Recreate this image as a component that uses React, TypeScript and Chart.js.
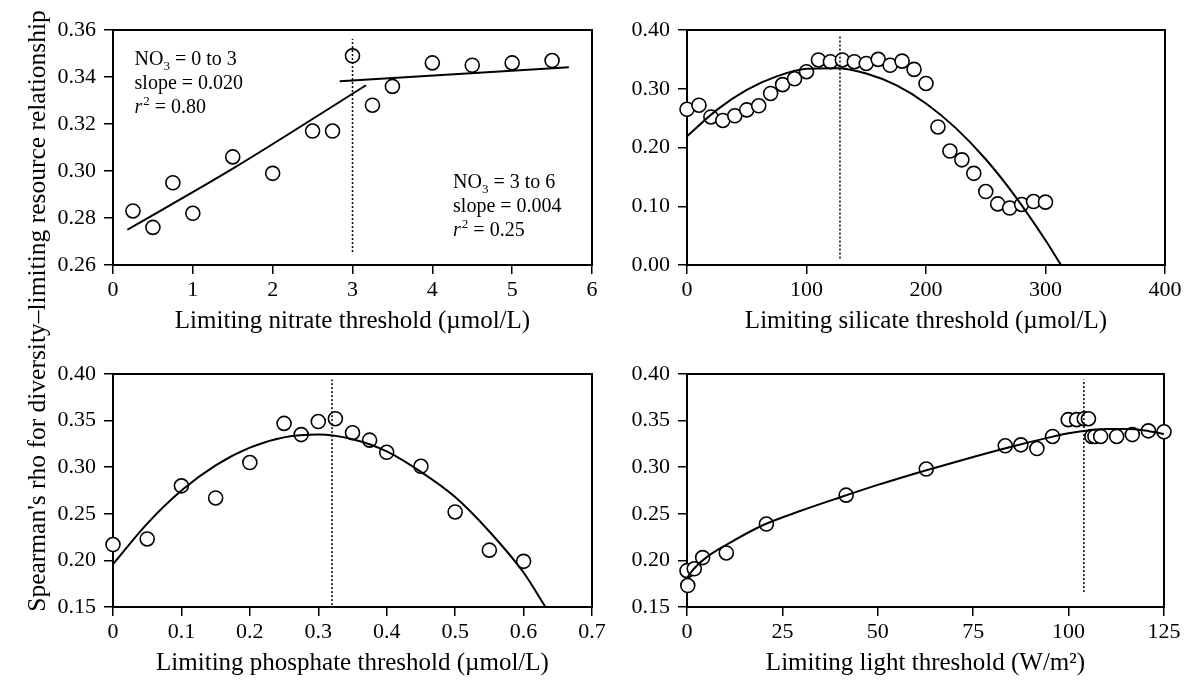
import React, { useEffect, useRef } from 'react';
import { Chart, registerables } from 'chart.js';

Chart.register(...registerables);

const FONT = "'Liberation Serif', 'Times New Roman', Times, serif";

// ---------- Panel 1: nitrate ----------
const nitrateX = [0.25, 0.5, 0.75, 1, 1.5, 2, 2.5, 2.75, 3, 3.25, 3.5, 4, 4.5, 5, 5.5];
const nitrateRho = [0.283, 0.276, 0.295, 0.282, 0.306, 0.299, 0.317, 0.317, 0.349, 0.328, 0.336, 0.346, 0.345, 0.346, 0.347];
const nitrateFitLowX = [0.18, 1.5, 3.17];
const nitrateFitLowY = [0.275, 0.301, 0.3365];
const nitrateFitHighX = [2.84, 5.71];
const nitrateFitHighY = [0.3382, 0.3442];
const nitrateBreakX = [3, 3];
const nitrateBreakY = [0.2655, 0.3562];
const nitrateXTicks = [0, 1, 2, 3, 4, 5, 6];
const nitrateYTicks = [0.26, 0.28, 0.3, 0.32, 0.34, 0.36];

// ---------- Panel 2: silicate ----------
const silicateX = [0, 10, 20, 30, 40, 50, 60, 70, 80, 90, 100, 110, 120, 130, 140, 150, 160, 170, 180, 190, 200, 210, 220, 230, 240, 250, 260, 270, 280, 290, 300];
const silicateRho = [0.265, 0.272, 0.252, 0.246, 0.254, 0.264, 0.271, 0.292, 0.307, 0.317, 0.329, 0.349, 0.346, 0.349, 0.346, 0.343, 0.35, 0.34, 0.347, 0.333, 0.309, 0.235, 0.194, 0.179, 0.156, 0.125, 0.104, 0.097, 0.103, 0.108, 0.107];
const silicateFitX = [0, 25, 50, 75, 100, 125, 150, 175, 200, 225, 250, 275, 300, 313];
const silicateFitY = [0.219, 0.264, 0.298, 0.321, 0.334, 0.335, 0.326, 0.306, 0.275, 0.233, 0.18, 0.116, 0.042, 0.0];
const silicateBreakX = [128, 128];
const silicateBreakY = [0.011, 0.389];
const silicateXTicks = [0, 100, 200, 300, 400];
const silicateYTicks = [0.0, 0.1, 0.2, 0.3, 0.4];

// ---------- Panel 3: phosphate ----------
const phosphateX = [0, 0.05, 0.1, 0.15, 0.2, 0.25, 0.275, 0.3, 0.325, 0.35, 0.375, 0.4, 0.45, 0.5, 0.55, 0.6];
const phosphateRho = [0.217, 0.223, 0.28, 0.267, 0.305, 0.347, 0.335, 0.349, 0.352, 0.337, 0.329, 0.316, 0.301, 0.252, 0.211, 0.199];
const phosphateFitX = [0, 0.05, 0.1, 0.15, 0.2, 0.25, 0.3, 0.35, 0.4, 0.45, 0.5, 0.55, 0.6, 0.632];
const phosphateFitY = [0.196, 0.2395, 0.275, 0.302, 0.321, 0.332, 0.335, 0.33, 0.317, 0.295, 0.268, 0.231, 0.187, 0.15];
const phosphateBreakX = [0.32, 0.32];
const phosphateBreakY = [0.152, 0.394];
const phosphateXTicks = [0, 0.1, 0.2, 0.3, 0.4, 0.5, 0.6, 0.7];
const phosphateYTicks = [0.15, 0.2, 0.25, 0.3, 0.35, 0.4];

// ---------- Panel 4: light ----------
const lightX = [0, 0.2, 1.9, 4.1, 10.3, 20.8, 41.7, 62.7, 83.4, 87.5, 91.7, 95.8, 99.9, 102.1, 104.1, 105.2, 106.1, 106.9, 108.4, 112.6, 116.7, 120.9, 125];
const lightRho = [0.189, 0.173, 0.191, 0.203, 0.208, 0.239, 0.27, 0.298, 0.323, 0.324, 0.32, 0.333, 0.351, 0.351, 0.352, 0.352, 0.333, 0.333, 0.333, 0.333, 0.335, 0.339, 0.338];
const lightFitX = [0, 1, 2.5, 5, 10, 20, 30, 40, 50, 62.5, 75, 85, 95, 100, 105, 110, 115, 120, 125];
const lightFitY = [0.181, 0.187, 0.194, 0.203, 0.216, 0.238, 0.2535, 0.2675, 0.281, 0.2965, 0.311, 0.322, 0.332, 0.3365, 0.3395, 0.341, 0.341, 0.3395, 0.3355];
const lightBreakX = [104, 104];
const lightBreakY = [0.166, 0.394];
const lightXTicks = [0, 25, 50, 75, 100, 125];
const lightYTicks = [0.15, 0.2, 0.25, 0.3, 0.35, 0.4];

const yAxisTitle = "Spearman's rho for diversity\u2013limiting resource relationship";

type Seg = { t: string; s?: 'i' | 'sub' | 'sup' };
type Note = { x: number; y: number; lines: Seg[][] };

const AXIS_W = 70;
const AXIS_H = 75;
const PAD_TOP = 30;

const pts = (xs: number[], ys: number[]) => xs.map((x, i) => ({ x, y: ys[i] }));

interface PanelCfg {
  area: { left: number; top: number; right: number; bottom: number };
  padRight: number;
  points: { x: number; y: number }[];
  fits: { x: number; y: number }[][];
  breakLine: { x: number; y: number }[];
  xTicks: number[];
  yTicks: number[];
  xFmt: (v: number) => string;
  yFmt: (v: number) => string;
  xTitle: string;
  notes: Note[];
}

const panels: PanelCfg[] = [
  {
    area: { left: 113, top: 30, right: 592, bottom: 265 },
    padRight: 30,
    points: pts(nitrateX, nitrateRho),
    fits: [pts(nitrateFitLowX, nitrateFitLowY), pts(nitrateFitHighX, nitrateFitHighY)],
    breakLine: pts(nitrateBreakX, nitrateBreakY),
    xTicks: nitrateXTicks,
    yTicks: nitrateYTicks,
    xFmt: (v) => String(v),
    yFmt: (v) => v.toFixed(2),
    xTitle: 'Limiting nitrate threshold (\u00b5mol/L)',
    notes: [
      {
        x: 0.27,
        y: 0.3451,
        lines: [
          [{ t: 'NO' }, { t: '3', s: 'sub' }, { t: ' = 0 to 3' }],
          [{ t: 'slope = 0.020' }],
          [{ t: 'r', s: 'i' }, { t: '2', s: 'sup' }, { t: ' = 0.80' }],
        ],
      },
      {
        x: 4.26,
        y: 0.2928,
        lines: [
          [{ t: 'NO' }, { t: '3', s: 'sub' }, { t: ' = 3 to 6' }],
          [{ t: 'slope = 0.004' }],
          [{ t: 'r', s: 'i' }, { t: '2', s: 'sup' }, { t: ' = 0.25' }],
        ],
      },
    ],
  },
  {
    area: { left: 687, top: 30, right: 1165, bottom: 265 },
    padRight: 20,
    points: pts(silicateX, silicateRho),
    fits: [pts(silicateFitX, silicateFitY)],
    breakLine: pts(silicateBreakX, silicateBreakY),
    xTicks: silicateXTicks,
    yTicks: silicateYTicks,
    xFmt: (v) => String(v),
    yFmt: (v) => v.toFixed(2),
    xTitle: 'Limiting silicate threshold (\u00b5mol/L)',
    notes: [],
  },
  {
    area: { left: 113, top: 374, right: 592, bottom: 607 },
    padRight: 30,
    points: pts(phosphateX, phosphateRho),
    fits: [pts(phosphateFitX, phosphateFitY)],
    breakLine: pts(phosphateBreakX, phosphateBreakY),
    xTicks: phosphateXTicks,
    yTicks: phosphateYTicks,
    xFmt: (v) => (v === 0 ? '0' : v.toFixed(1)),
    yFmt: (v) => v.toFixed(2),
    xTitle: 'Limiting phosphate threshold (\u00b5mol/L)',
    notes: [],
  },
  {
    area: { left: 687, top: 374, right: 1164, bottom: 607 },
    padRight: 21,
    points: pts(lightX, lightRho),
    fits: [pts(lightFitX, lightFitY)],
    breakLine: pts(lightBreakX, lightBreakY),
    xTicks: lightXTicks,
    yTicks: lightYTicks,
    xFmt: (v) => String(v),
    yFmt: (v) => v.toFixed(2),
    xTitle: 'Limiting light threshold (W/m\u00b2)',
    notes: [],
  },
];

const framePlugin = {
  id: 'frame',
  beforeDatasetsDraw(chart: any) {
    const { ctx, chartArea: a } = chart;
    ctx.save();
    ctx.strokeStyle = '#000';
    ctx.lineWidth = 2;
    ctx.strokeRect(a.left, a.top, a.right - a.left, a.bottom - a.top);
    ctx.restore();
  },
};

function notesPlugin(notes: Note[]) {
  return {
    id: 'notes',
    afterDatasetsDraw(chart: any) {
      const ctx = chart.ctx;
      const xs = chart.scales.x;
      const ys = chart.scales.y;
      ctx.save();
      ctx.fillStyle = '#000';
      ctx.textBaseline = 'alphabetic';
      ctx.textAlign = 'left';
      for (const n of notes) {
        const x0 = xs.getPixelForValue(n.x);
        let y = ys.getPixelForValue(n.y);
        for (const line of n.lines) {
          let x = x0;
          for (const seg of line) {
            let size = 20;
            let dy = 0;
            let style = '';
            if (seg.s === 'sub') { size = 13; dy = 5; }
            if (seg.s === 'sup') { size = 13; dy = -8; }
            if (seg.s === 'i') style = 'italic ';
            ctx.font = `${style}${size}px ${FONT}`;
            ctx.fillText(seg.t, x, y + dy);
            x += ctx.measureText(seg.t).width + (seg.s === 'i' ? 1 : 0);
          }
          y += 24;
        }
      }
      ctx.restore();
    },
  };
}

function buildConfig(p: PanelCfg): any {
  const lineDs = p.fits.map((f) => ({
    data: f,
    showLine: true,
    borderColor: '#000',
    borderWidth: 2,
    pointRadius: 0,
    cubicInterpolationMode: 'monotone',
    order: 0,
    clip: false,
  }));
  return {
    type: 'scatter',
    data: {
      datasets: [
        ...lineDs,
        {
          data: p.breakLine,
          showLine: true,
          borderColor: '#000',
          borderWidth: 1.5,
          borderDash: [2, 2],
          pointRadius: 0,
          order: 0,
        },
        {
          data: p.points,
          showLine: false,
          pointRadius: 7,
          pointBorderWidth: 1.6,
          pointBorderColor: '#000',
          pointBackgroundColor: '#fff',
          order: 1,
          clip: false,
        },
      ],
    },
    options: {
      animation: false,
      responsive: false,
      devicePixelRatio: 1,
      layout: { padding: { top: PAD_TOP, right: p.padRight, left: 0, bottom: 0 } },
      plugins: { legend: { display: false }, tooltip: { enabled: false } },
      scales: {
        x: {
          type: 'linear',
          min: p.xTicks[0],
          max: p.xTicks[p.xTicks.length - 1],
          afterBuildTicks: (s: any) => { s.ticks = p.xTicks.map((v) => ({ value: v })); },
          afterFit: (s: any) => { s.height = AXIS_H; },
          ticks: {
            callback: (v: any) => p.xFmt(Number(v)),
            font: { family: FONT, size: 22 },
            color: '#000',
            padding: 3,
            maxRotation: 0,
            autoSkip: false,
          },
          grid: { display: true, drawOnChartArea: false, drawTicks: true, tickLength: 9, color: '#000', lineWidth: 1.5 },
          border: { display: true, color: '#000', width: 2 },
          title: { display: true, text: p.xTitle, color: '#000', font: { family: FONT, size: 25 }, padding: { top: 0, bottom: 4 } },
        },
        y: {
          type: 'linear',
          min: p.yTicks[0],
          max: p.yTicks[p.yTicks.length - 1],
          afterBuildTicks: (s: any) => { s.ticks = p.yTicks.map((v) => ({ value: v })); },
          afterFit: (s: any) => { s.width = AXIS_W; },
          ticks: {
            callback: (v: any) => p.yFmt(Number(v)),
            font: { family: FONT, size: 22 },
            color: '#000',
            padding: 8,
            autoSkip: false,
          },
          grid: { display: true, drawOnChartArea: false, drawTicks: true, tickLength: 9, color: '#000', lineWidth: 1.5 },
          border: { display: true, color: '#000', width: 2 },
        },
      },
    },
    plugins: [framePlugin, notesPlugin(p.notes)],
  };
}

function Panel({ cfg }: { cfg: PanelCfg }) {
  const ref = useRef<HTMLCanvasElement | null>(null);
  useEffect(() => {
    if (!ref.current) return;
    const chart = new Chart(ref.current, buildConfig(cfg));
    return () => chart.destroy();
  }, [cfg]);
  const L = cfg.area.left - AXIS_W;
  const T = cfg.area.top - PAD_TOP;
  const W = cfg.area.right - cfg.area.left + AXIS_W + cfg.padRight;
  const H = cfg.area.bottom - cfg.area.top + PAD_TOP + AXIS_H;
  return (
    <canvas
      ref={ref}
      width={W}
      height={H}
      style={{ position: 'absolute', left: L, top: T, width: W, height: H, display: 'block' }}
    />
  );
}

export default function App() {
  return (
    <div style={{ position: 'absolute', left: 0, top: 0, width: 1185, height: 688, background: '#fff', overflow: 'hidden' }}>
      {panels.map((p, i) => (
        <Panel key={i} cfg={p} />
      ))}
      <div
        style={{
          position: 'absolute',
          left: 37 - 330,
          top: 311 - 16,
          width: 660,
          height: 32,
          lineHeight: '32px',
          textAlign: 'center',
          fontFamily: FONT,
          fontSize: 25.5,
          color: '#000',
          whiteSpace: 'nowrap',
          transform: 'rotate(-90deg)',
          transformOrigin: '50% 50%',
        }}
      >
        {yAxisTitle}
      </div>
    </div>
  );
}
